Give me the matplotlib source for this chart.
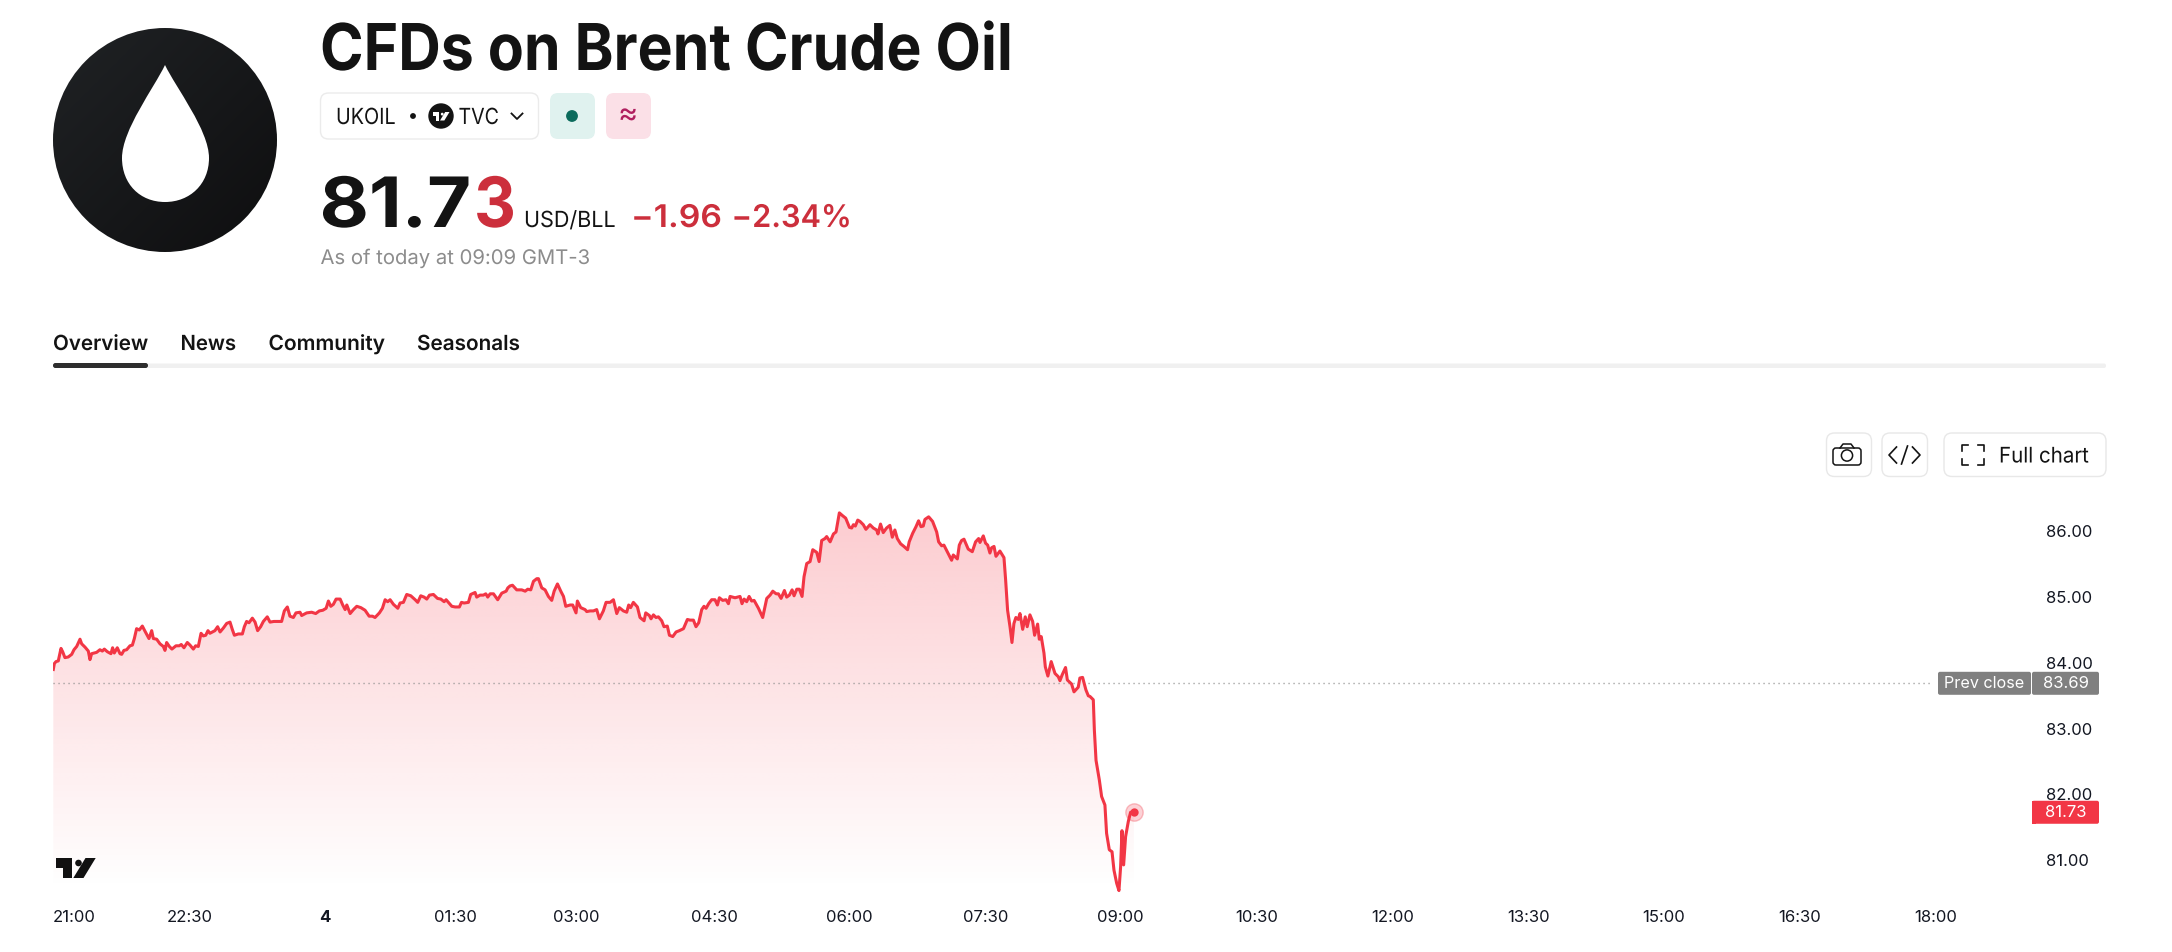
import numpy as np
import matplotlib
matplotlib.use("Agg")
import matplotlib.pyplot as plt
from matplotlib.patches import Circle, FancyBboxPatch, PathPatch, Polygon, Rectangle
from matplotlib.path import Path
from matplotlib.patheffects import AbstractPathEffect
from matplotlib.transforms import Affine2D

plt.rcParams['font.family'] = ['Inter', 'DejaVu Sans']

# ---- data -------------------------------------------------------------
minutes_evening = [0.2,0.9,2.0,3.5,5.3,6.4,7.9,10.1,12.4,13.9,15.7,17.9,19.0,21.2,23.4,24.5,25.6,28.9,31.1,32.7,34.0,36.0,38.4,39.5,40.6,42.6,44.4,45.5,47.0,48.8,51.0,52.6,53.9,55.4,57.2,59.2,61.0,63.6,65.4,66.5,68.7,70.9,73.1,74.2,75.3,77.1,78.8,81.5,83.7,85.0,86.8,89.0,90.8,93.0,94.5,96.3,98.1,99.6,101.2,102.7,104.0,107.3,109.1,110.7,112.9,115.1,117.3,118.8,120.2,122.8,125.5,126.8,128.3,129.9,132.1,133.9,135.6,137.6,139.4,142.0,143.8,146.4,151.5,153.3,155.3,157.0,159.3,161.0,163.7,164.8,168.1,171.4,174.1,176.5]
prices_evening = [83.90,83.99,84.02,84.03,84.22,84.17,84.08,84.09,84.13,84.20,84.25,84.36,84.29,84.24,84.18,84.05,84.14,84.16,84.20,84.18,84.21,84.17,84.14,84.23,84.15,84.23,84.14,84.13,84.19,84.20,84.26,84.27,84.37,84.52,84.50,84.56,84.48,84.37,84.49,84.37,84.36,84.29,84.25,84.19,84.31,84.25,84.21,84.26,84.26,84.28,84.23,84.31,84.27,84.21,84.26,84.25,84.45,84.41,84.42,84.49,84.45,84.49,84.55,84.47,84.53,84.60,84.62,84.51,84.42,84.44,84.44,84.55,84.63,84.61,84.68,84.62,84.49,84.55,84.63,84.70,84.62,84.63,84.63,84.79,84.85,84.71,84.69,84.76,84.77,84.72,84.76,84.77,84.75,84.79]

minutes_night = [178.8,181.0,182.5,184.1,185.8,187.6,190.3,192.0,193.6,194.7,196.9,199.1,201.3,204.0,206.8,209.5,211.7,213.4,216.3,218.3,220.1,221.8,223.4,225.6,228.5,230.0,232.2,234.4,237.1,240.0,241.7,243.7,245.9,247.7,249.5,252.1,254.8,257.0,259.2,260.5,262.0,264.3,266.5,269.3,270.7,272.4,275.3,276.8,279.7,280.8,283.0,285.2,286.8,288.1,289.7,291.9,294.7,297.4,300.3,301.4,302.9,304.5,307.3,310.6,312.9,314.6,316.6,318.4,320.6,321.7,323.9,326.1,328.3,330.5,332.1,334.3,336.5,338.3,339.8,342.7,344.4,346.6,347.5,349.7,352.6,353.7]
prices_night = [84.80,84.83,84.94,84.86,84.89,84.97,84.97,84.88,84.81,84.88,84.75,84.81,84.86,84.84,84.80,84.71,84.71,84.69,84.76,84.83,84.96,84.93,84.96,84.89,84.83,84.91,84.92,85.04,85.02,84.96,84.92,85.02,85.00,84.97,85.03,85.04,84.98,84.97,84.93,84.96,84.92,84.86,84.85,84.85,84.92,84.91,84.92,85.04,85.07,85.00,85.03,85.03,85.05,85.00,85.05,85.05,84.96,85.06,85.09,85.14,85.17,85.18,85.11,85.11,85.09,85.12,85.11,85.24,85.28,85.28,85.14,85.11,85.01,84.95,85.09,85.20,85.09,85.01,84.86,84.88,84.88,84.76,84.94,84.84,84.81,84.78]

minutes_morning = [355.9,358.1,360.3,362.1,364.7,366.5,369.2,371.4,373.6,375.3,378.0,380.2,381.5,382.8,384.6,387.3,389.0,391.7,392.8,395.2,396.3,397.9,399.6,401.2,403.4,404.9,407.1,408.5,410.7,412.9,415.1,417.8,420.4,422.2,424.4,426.1,427.9,429.9,431.4,432.8,434.5,436.5,438.7,440.3,441.6,443.8,446.0,447.6,448.7,452.0,455.3,456.6,458.0,459.7,461.3,463.0,464.6,467.5,470.3,473.0,475.2,477.0,479.2,480.7,482.5,484.7,486.2,488.0,489.8,491.1,492.9,494.6,496.4,497.7,499.5,501.7,503.5,506.1,507.7,509.4,511.6,512.7,515.0,517.2,518.9,521.1,523.1,525.3,527.8,529.3,530.4,531.7,533.3,534.8]
prices_morning = [84.79,84.79,84.81,84.67,84.79,84.92,84.92,84.96,84.75,84.84,84.79,84.77,84.88,84.84,84.92,84.85,84.69,84.64,84.76,84.72,84.67,84.73,84.69,84.70,84.64,84.55,84.56,84.42,84.40,84.47,84.49,84.52,84.66,84.65,84.65,84.55,84.61,84.81,84.86,84.83,84.90,84.96,84.96,84.88,84.99,84.95,84.96,84.90,85.01,84.99,85.01,84.90,84.97,84.93,85.01,84.94,84.95,84.83,84.69,84.98,85.03,85.09,85.05,85.05,84.98,85.10,85.00,85.03,85.11,85.02,85.12,85.12,85.01,85.31,85.51,85.54,85.72,85.68,85.54,85.86,85.89,85.92,85.84,85.96,85.99,86.28,86.24,86.20,86.06,86.05,86.10,86.08,86.17,86.15]

minutes_selloff = [537.0,538.7,541.4,543.6,545.8,546.7,548.4,550.2,552.4,554.6,556.2,557.9,559.5,561.7,563.9,566.3,567.4,569.7,571.9,573.6,575.2,576.7,577.8,580.3,582.9,585.6,586.9,588.9,590.4,592.6,595.5,596.6,599.3,600.6,602.1,603.7,606.5,609.2,611.4,613.4,614.3,616.5,618.0,619.4,620.9,622.0,623.6,624.9,627.5,630.2,631.3,632.6,634.2,635.5,636.8,638.1,639.7,640.8,642.6,644.3,645.6,647.4,649.2,650.5,652.5,653.6,654.9,656.7,657.6,659.3,661.5,664.0,666.2,667.3,668.8,671.0,672.2,675.0,676.6,679.4,680.5,682.3,684.5,686.1,687.2,689.4,690.1,691.2,693.4,694.9,697.1,698.2,700.0,701.8,703.1,704.9,706.4,707.5,708.4,709.5,710.8,712.6,714.1,716.3]
prices_selloff = [86.10,86.03,86.10,86.05,86.02,85.96,86.11,85.98,86.05,86.09,85.91,86.02,85.89,85.81,85.77,85.72,85.84,85.97,86.07,86.16,86.07,86.08,86.18,86.22,86.15,85.99,85.84,85.78,85.79,85.69,85.56,85.64,85.58,85.79,85.86,85.88,85.73,85.69,85.84,85.89,85.83,85.93,85.82,85.79,85.67,85.75,85.77,85.62,85.70,85.60,85.26,84.80,84.55,84.31,84.60,84.69,84.66,84.75,84.51,84.70,84.55,84.73,84.63,84.42,84.59,84.36,84.40,84.15,83.94,83.80,84.02,83.84,83.79,83.73,83.82,83.93,83.74,83.68,83.56,83.63,83.77,83.78,83.59,83.50,83.49,83.44,82.98,82.52,82.22,81.97,81.84,81.41,81.16,81.13,80.85,80.65,80.54,80.90,81.45,80.93,81.36,81.59,81.73,81.73]

prev_close = 83.69
last_price = 81.73
price_ticks = [81, 82, 83, 84, 85, 86]
time_tick_minutes = [0, 90.5, 180, 267, 347, 438, 528, 618, 707.6, 797.6, 887.6, 977.6, 1067.6, 1157.6, 1247.6]
time_tick_labels = ['21:00','22:30','4','01:30','03:00','04:30','06:00','07:30','09:00','10:30','12:00','13:30','15:00','16:30','18:00']

minutes = np.array(minutes_evening + minutes_night + minutes_morning + minutes_selloff)
prices = np.array(prices_evening + prices_night + prices_morning + prices_selloff)

# ---- figure -----------------------------------------------------------
W, H = 2172, 952
fig = plt.figure(figsize=(W/100, H/100), dpi=100, facecolor='white')

RED = '#F23645'
QUOTE_RED = '#CC2F3C'
INK = '#131313'

# chart axes: pixel box 53..2045 x 500..893
L, R, T, B = 53, 2045, 500, 893
ax = fig.add_axes([L/W, 1-B/H, (R-L)/W, (B-T)/H])
xlim = (0, (R-L)/1.509)
ylim = (86-(B-531.3)/65.8, 86-(T-531.3)/65.8)
ax.patch.set_alpha(0)
for s in ax.spines.values():
    s.set_visible(False)

# gradient area
bottom = ylim[0] + 0.04
poly = np.column_stack([np.r_[minutes, minutes[-1], minutes[0]], np.r_[prices, bottom, bottom]])
grad = np.zeros((256, 2, 4))
grad[..., 0] = 245/255; grad[..., 1] = 54/255; grad[..., 2] = 69/255
grad[..., 3] = np.linspace(0.255, 0.0, 256)[:, None]
im = ax.imshow(grad, extent=[minutes[0], minutes[-1], bottom, prices.max()], origin='upper', aspect='auto', zorder=1, interpolation='bilinear')
area = Polygon(poly, closed=True, transform=ax.transData, facecolor='none', edgecolor='none')
ax.add_patch(area)
im.set_clip_path(area)
ax.set_xlim(*xlim)
ax.set_ylim(*ylim)

frac = lambda px: (px-L)/(R-L)
ax.plot([0, xlim[1]*frac(1933)], [prev_close]*2, color='#8f8f8f', lw=1, ls=(0, (0.8, 2.8)), zorder=2)
ax.plot(minutes, prices, color=RED, lw=2.2, zorder=3, solid_joinstyle='round')

ax.plot(minutes[-1], prices[-1], 'o', ms=12.5, mfc=(242/255,54/255,69/255,0.22), mec=(242/255,54/255,69/255,0.3), mew=1, zorder=4)
ax.plot(minutes[-1], prices[-1], 'o', ms=6, color=RED, mew=0, zorder=5)

ax.set_xticks(time_tick_minutes)
ax.set_xticklabels(time_tick_labels, fontsize=12, color='#131722')
ax.set_yticks(price_ticks)
ax.set_yticklabels([f'{v:.2f}' for v in price_ticks], fontsize=12, color='#131722')
ax.yaxis.tick_right()
ax.tick_params(axis='both', length=0)
ax.tick_params(axis='x', pad=12)
ax.tick_params(axis='y', pad=0.7)
lab = ax.get_xticklabels()
lab[0].set_ha('left')
lab[2].set_fontweight('bold')

# ---- overlay in pixel coordinates ---------------------------------------
ov = fig.add_axes([0, 0, 1, 1], zorder=10)
ov.set_xlim(0, W); ov.set_ylim(H, 0); ov.axis('off'); ov.patch.set_alpha(0)

class HScale(AbstractPathEffect):
    """Condense or widen text horizontally about its left edge."""
    def __init__(self, sx, x0):
        super().__init__()
        self.sx, self.x0 = sx, x0
    def draw_path(self, renderer, gc, tpath, affine, rgbFace=None):
        a = affine + Affine2D().translate(-self.x0, 0).scale(self.sx, 1).translate(self.x0, 0)
        renderer.draw_path(gc, tpath, a, rgbFace)

renderer = fig.canvas.get_renderer()
def fit_text(x0, x1, y, s, **kw):
    t = ov.text(x0, y, s, va='baseline', **kw)
    w = t.get_window_extent(renderer).width
    t.set_path_effects([HScale((x1-x0)/w, x0)])
    return t

def rbox(x0, y0, x1, y1, r, fc='white', ec='#E6E6E6', lw=1, z=None):
    p = FancyBboxPatch((x0+r, y0+r), x1-x0-2*r, y1-y0-2*r, boxstyle=f'round,pad={r},rounding_size={r}',
                       facecolor=fc, edgecolor=ec, lw=lw)
    ov.add_patch(p)
    return p

def tv_mark(x, y, w, h, color):
    sx, sy = w/40.2, h/20.0
    P = lambda pts: [(x+a*sx, y+b*sy) for a, b in pts]
    ov.add_patch(Polygon(P([(0,0),(16.5,0),(16.5,20),(7.5,20),(7.5,10),(0,10)]), color=color, lw=0))
    ov.add_patch(Circle((x+23*sx, y+5*sy), 3.3*min(sx, sy), color=color, lw=0))
    ov.add_patch(Polygon(P([(30,0),(40.2,0),(28,20),(17.8,20)]), color=color, lw=0))

# price tags, placed from the chart's own price scale
def price_y(v):
    return H - ax.transData.transform((0, v))[1]
def tag(x0, x1, val, color, text, size=12):
    y = price_y(val)
    rbox(x0, y-11.5, x1, y+11.5, 2, fc=color, ec='none')
    ov.text((x0+x1)/2, y+0.2, text, color='white', fontsize=size, ha='center', va='center')
tag(1938, 2031, prev_close, '#808080', 'Prev close', 11.6)
tag(2032, 2099, prev_close, '#808080', f'{prev_close:.2f}')
tag(2032, 2099, last_price, RED, f'{last_price:.2f}')
_y = price_y(last_price)
ov.add_patch(Rectangle((2032, _y-11.5), 4, 23, facecolor=RED, edgecolor='none', zorder=0.5))

# oil logo
g = np.linspace(0, 1, 200)
gx, gy = np.meshgrid(g, g)
shade = (gx + gy) / 2
logo_rgb = np.dstack([0.125 - 0.07*shade, 0.135 - 0.08*shade, 0.145 - 0.085*shade])
logo = ov.imshow(logo_rgb, extent=[53, 277, 252, 28], aspect='auto', zorder=1)
logo.set_clip_path(Circle((165, 140), 112, transform=ov.transData))
ov.set_xlim(0, W); ov.set_ylim(H, 0)
drop = Path([(165,65),(176,88),(209,130),(209,158),(209,184),(190,202),(165,202),(140,202),(122,184),(122,158),(122,130),(154,88),(165,65)],
            [Path.MOVETO]+[Path.CURVE4]*12)
ov.add_patch(PathPatch(drop, facecolor='white', edgecolor='none', zorder=2))

# title & chips
fit_text(320, 1012, 70, 'CFDs on Brent Crude Oil', fontsize=46.5, fontweight='bold', color=INK)
rbox(320.5, 93, 538.5, 139, 8, ec='#EBEBEB')
fit_text(336, 396, 124, 'UKOIL', fontsize=16, color=INK)
ov.add_patch(Circle((413, 116), 2.2, color=INK))
ov.add_patch(Circle((441, 116), 12, color=INK))
tv_mark(432.5, 112, 17, 8.5, 'white')
fit_text(458.5, 499, 124, 'TVC', fontsize=16, color=INK)
ov.plot([511.5, 517, 522.5], [113.5, 119, 113.5], color=INK, lw=1.3)
rbox(550, 93, 595, 139, 8, fc='#E0F2EF', ec='none')
ov.add_patch(Circle((572, 116), 5.2, color='#0B6B5C'))
rbox(606, 93, 651, 139, 8, fc='#FBE0E7', ec='none')
ov.text(628, 116, '≈', fontsize=22, color='#B01E5F', ha='center', va='center')

# quote
fit_text(319.5, 471, 227, '81.7', fontsize=50, fontweight='bold', color=INK)
fit_text(474, 516, 227, '3', fontsize=50, fontweight='bold', color=QUOTE_RED)
fit_text(524, 616, 227, 'USD/BLL', fontsize=16, color=INK)
fit_text(631, 722, 227, '−1.96', fontsize=22.5, fontweight='semibold', color=QUOTE_RED)
fit_text(731.5, 851.5, 227, '−2.34%', fontsize=22.5, fontweight='semibold', color=QUOTE_RED)
fit_text(320.5, 590, 264, 'As of today at 09:09 GMT-3', fontsize=14.5, color='#8C8C8C')

# tabs
for x0, x1, t in [(53, 148, 'Overview'), (180.5, 236, 'News'), (268.5, 385, 'Community'), (417, 520, 'Seasonals')]:
    fit_text(x0, x1, 350, t, fontsize=15, fontweight='semibold', color=INK)
rbox(53, 363.5, 2106, 368, 2, fc='#F0F0F0', ec='none')
rbox(53, 363, 148, 368, 2.4, fc='#2E2E2E', ec='none')

# toolbar
rbox(1826.5, 433, 1871.5, 476.5, 8, ec='#E8E8E8')
rbox(1882, 433, 1927.5, 476.5, 8, ec='#E8E8E8')
rbox(1944, 433, 2106, 476.5, 8, ec='#E8E8E8')
rbox(1833, 448, 1861, 465, 3, fc='white', ec=INK, lw=1.1)
ov.plot([1840, 1843, 1851, 1854], [448, 444, 444, 448], color=INK, lw=1.1)
ov.add_patch(Circle((1847, 455.5), 5.6, facecolor='none', edgecolor=INK, lw=1.1))
ov.plot([1896.5, 1889, 1896.5], [447, 455, 463], color=INK, lw=1.2)
ov.plot([1912.5, 1920, 1912.5], [447, 455, 463], color=INK, lw=1.2)
ov.plot([1901.5, 1907.5], [464, 446], color=INK, lw=1.2)
for sx, sy in [(-1, -1), (1, -1), (-1, 1), (1, 1)]:
    cx, cy = 1972.5 + sx*11, 455 + sy*10
    ov.plot([cx - sx*6, cx, cx], [cy, cy, cy - sy*6], color=INK, lw=1.2, solid_joinstyle='round')
fit_text(1999, 2089, 462.5, 'Full chart', fontsize=15.5, color=INK)

# TradingView watermark
tv_mark(55.5, 858, 40.2, 20, '#111111')

fig.savefig('out.png', dpi=100)
